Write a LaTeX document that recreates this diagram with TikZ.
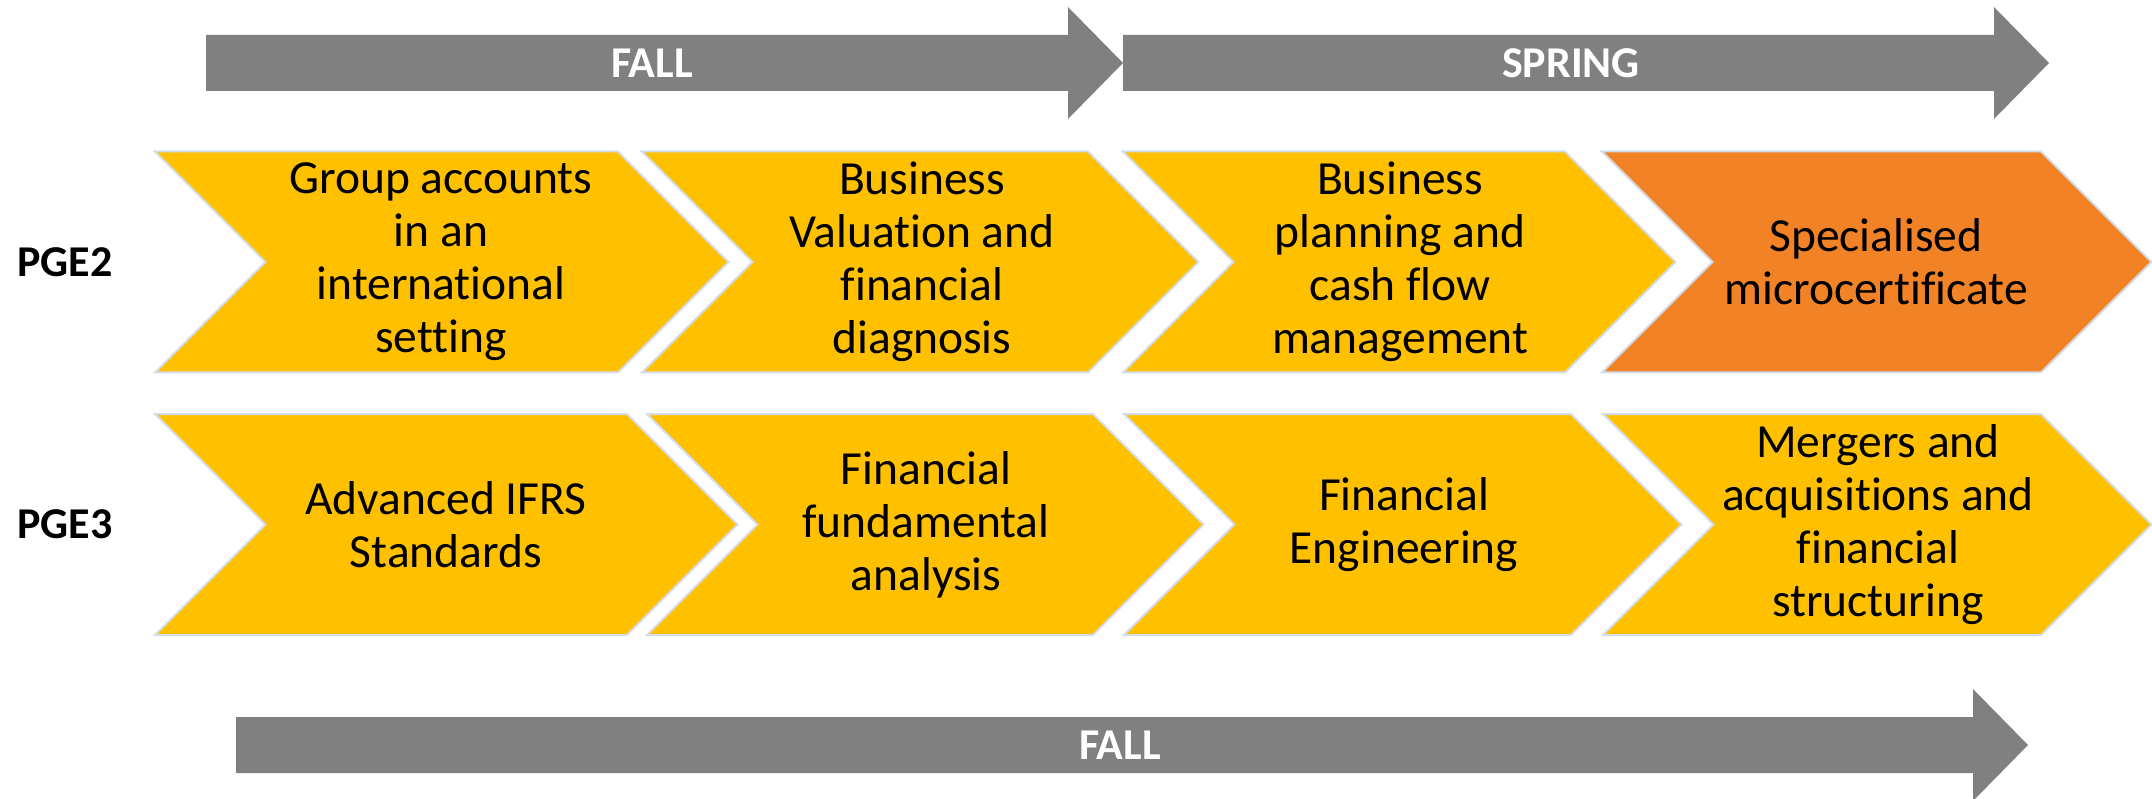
\documentclass[tikz,border=0pt]{standalone}
\usepackage{fontspec}
\setmainfont{Carlito}[Ligatures={NoCommon}]
\definecolor{gold}{HTML}{FFC000}
\definecolor{orng}{HTML}{F28226}
\definecolor{arrowgray}{HTML}{808080}
\definecolor{edge}{HTML}{D3DDEA}
\begin{document}
\begin{tikzpicture}[x=1pt,y=-1pt,
  chev/.style={fill=gold,draw=edge,line width=2pt,line join=miter},
  chevo/.style={fill=orng,draw=edge,line width=2pt,line join=miter},
  bigarrow/.style={fill=arrowgray,draw=none},
  coursetext/.style={align=center,inner sep=0pt,font=\fontsize{47.5}{53}\selectfont,text=black},
  seasontext/.style={inner sep=0pt,font=\fontsize{44}{50}\selectfont\bfseries,text=white},
  rowlabel/.style={inner sep=0pt,font=\fontsize{44}{50}\selectfont\bfseries,text=black}]
\useasboundingbox (0,0) rectangle (2152,799);
% top arrows
\draw[bigarrow] (206,35) -- (1068,35) -- (1068,7) -- (1123,63) -- (1068,119) -- (1068,91) -- (206,91) -- cycle;
\draw[bigarrow] (1123,35) -- (1994,35) -- (1994,7) -- (2049,63) -- (1994,119) -- (1994,91) -- (1123,91) -- cycle;
\node[seasontext] (fall1) at (652,63) {FALL};
\node[seasontext] (spring) at (1571,63) {SPRING};
% bottom arrow
\draw[bigarrow] (236,717) -- (1973,717) -- (1973,689) -- (2028,745) -- (1973,801) -- (1973,773) -- (236,773) -- cycle;
\node[seasontext] (fall2) at (1120,745) {FALL};
% row labels
\node[rowlabel] (pge2) at (65,262) {PGE2};
\node[rowlabel] (pge3) at (65,524) {PGE3};
% row 1 chevrons (top 151.5, bottom 372.5)
\draw[chev] (155,151.5) -- (618,151.5) -- (728.5,262) -- (618,372.5) -- (155,372.5) -- (265.5,262) -- cycle;
\draw[chev] (642,151.5) -- (1088,151.5) -- (1198.5,262) -- (1088,372.5) -- (642,372.5) -- (752.5,262) -- cycle;
\draw[chev] (1123,151.5) -- (1565,151.5) -- (1675.5,262) -- (1565,372.5) -- (1123,372.5) -- (1233.5,262) -- cycle;
\draw[chevo] (1602,151.5) -- (2041,151.5) -- (2151.5,262) -- (2041,372.5) -- (1602,372.5) -- (1712.5,262) -- cycle;
% row 2 chevrons (top 414, bottom 635)
\draw[chev] (155,414) -- (627,414) -- (737.5,524.5) -- (627,635) -- (155,635) -- (265.5,524.5) -- cycle;
\draw[chev] (647,414) -- (1093,414) -- (1203.5,524.5) -- (1093,635) -- (647,635) -- (757.5,524.5) -- cycle;
\draw[chev] (1124,414) -- (1571,414) -- (1681.5,524.5) -- (1571,635) -- (1124,635) -- (1234.5,524.5) -- cycle;
\draw[chev] (1603,414) -- (2041,414) -- (2151.5,524.5) -- (2041,635) -- (1603,635) -- (1713.5,524.5) -- cycle;
% row 1 texts
\node[coursetext] (c11) at (441,262) {Group accounts\\in an\\international\\setting};
\node[coursetext] (c12) at (922,262) {Business\\Valuation and\\financial\\diagnosis};
\node[coursetext] (c13) at (1400,262) {Business\\planning and\\cash flow\\management};
\node[coursetext] (c14) at (1876,262) {Specialised\\microcertificate};
% row 2 texts
\node[coursetext] (c21) at (446,524.5) {Advanced IFRS\\Standards};
\node[coursetext] (c22) at (926,524.5) {Financial\\fundamental\\analysis};
\node[coursetext] (c23) at (1404,524.5) {Financial\\Engineering};
\node[coursetext] (c24) at (1878,524.5) {Mergers and\\acquisitions and\\financial\\structuring};
\end{tikzpicture}
\end{document}
